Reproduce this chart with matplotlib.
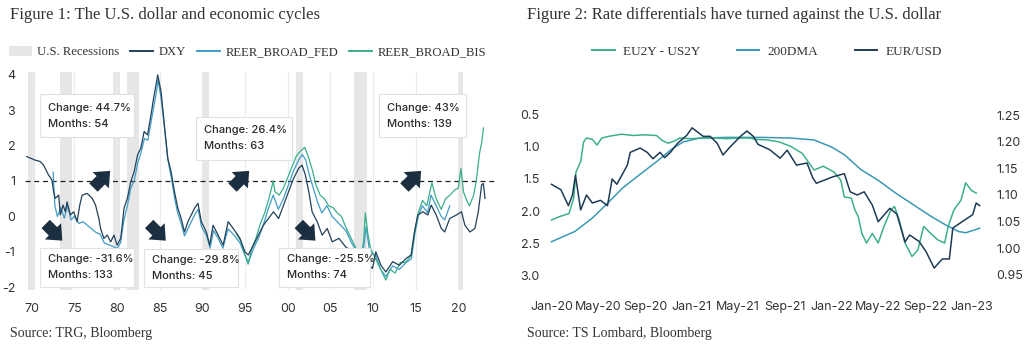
import matplotlib
matplotlib.use("Agg")
import matplotlib.pyplot as plt
import matplotlib.transforms as mtransforms
from matplotlib.patches import Rectangle, FancyArrowPatch, Patch
from matplotlib.lines import Line2D

plt.rcParams['axes.unicode_minus'] = False

# ---------------- Figure 1 data ----------------
recessions = [(1969.5, 1970.4), (1973.35, 1974.7), (1979.55, 1980.3), (1981.2, 1982.6),
              (1989.9, 1990.75), (2000.95, 2001.8), (2007.8, 2009.35), (2020.05, 2020.55)]

dxy_year = [1969.4, 1970.39, 1970.98, 1971.37, 1971.96, 1972.36, 1972.55, 1972.75, 1973.15, 1973.34,
            1973.66, 1973.93, 1974.13, 1974.52, 1974.91, 1975.31, 1975.62, 1975.9, 1976.49, 1977.08,
            1977.47, 1977.86, 1978.06, 1978.45, 1978.85, 1979.24, 1979.63, 1980.0, 1980.42, 1980.81,
            1981.2, 1981.6, 1981.99, 1982.4, 1982.78, 1983.17, 1983.57, 1983.97, 1984.28, 1984.56,
            1984.76, 1985.15, 1985.54, 1985.94, 1986.33, 1986.72, 1987.12, 1987.51, 1987.9, 1988.3,
            1989.08, 1989.48, 1989.87, 1990.46, 1990.85, 1991.25, 1991.84, 1992.43, 1993.02, 1993.61,
            1994.4, 1994.98, 1995.38, 1995.97, 1996.56, 1997.15, 1997.74, 1998.33, 1998.93, 1999.52,
            2000.1, 2000.7, 2001.29, 2001.68, 2002.07, 2002.47, 2002.86, 2003.45, 2004.04, 2004.63,
            2005.22, 2006.0, 2006.79, 2007.58, 2008.76, 2009.94, 2010.33, 2010.92, 2011.51, 2012.3,
            2013.09, 2013.87, 2014.46, 2014.86, 2015.25, 2015.84, 2016.43, 2016.82, 2017.41, 2018.0,
            2018.4, 2018.99, 2019.78, 2020.37, 2020.77, 2021.36, 2021.95, 2022.34, 2022.73, 2022.93,
            2023.13]
dxy_val = [1.69, 1.59, 1.55, 1.45, 1.17, 1.03, 0.70, 0.51, 0.60, 0.04,
           0.32, 0.13, 0.41, 0.04, 0.13, -0.15, 0.32, 0.60, 0.65, 0.51,
           0.32, -0.06, -0.34, -0.62, -0.53, -0.72, -0.53, -0.81, -0.62, 0.23,
           0.51, 0.98, 1.26, 1.74, 1.93, 2.40, 2.30, 2.87, 3.34, 3.72,
           4.0, 3.53, 2.58, 1.64, 1.26, 0.70, 0.23, -0.06, -0.44, -0.15,
           0.23, 0.37, -0.15, -0.44, -0.81, -0.25, -0.53, -0.81, -0.15, -0.34,
           -0.62, -1.0, -1.09, -0.81, -0.53, -0.25, -0.06, 0.13, -0.06, 0.32,
           0.70, 1.08, 1.36, 1.45, 1.17, 0.70, 0.13, -0.15, -0.53, -0.34,
           -0.72, -0.62, -0.86, -1.0, -1.19, -1.47, -1.0, -1.38, -1.57, -1.28,
           -1.38, -1.19, -1.09, -0.44, 0.04, 0.13, 0.04, 0.32, 0.04, -0.34,
           -0.44, -0.06, 0.04, 0.13, -0.25, -0.44, -0.34, 0.13, 0.89, 0.93,
           0.51]

fed_year = [1972.5, 1972.7, 1973.0, 1973.4, 1973.8, 1974.2, 1974.6, 1975.0, 1975.5, 1976.0,
            1976.5, 1977.0, 1977.5, 1978.0, 1978.5, 1979.0, 1979.5, 1980.0, 1980.4, 1980.8,
            1981.2, 1981.6, 1982.0, 1982.4, 1982.8, 1983.2, 1983.6, 1984.0, 1984.3, 1984.6,
            1984.8, 1985.15, 1985.55, 1985.95, 1986.35, 1986.75, 1987.1, 1987.5, 1987.9, 1988.3,
            1989.1, 1989.5, 1989.9, 1990.5, 1990.9, 1991.3, 1991.8, 1992.4, 1993.0, 1993.6,
            1994.4, 1995.0, 1995.4, 1996.0, 1996.6, 1997.2, 1997.7, 1998.3, 1998.9, 1999.5,
            2000.1, 2000.7, 2001.3, 2001.7, 2002.1, 2002.5, 2003.0, 2003.5, 2004.0, 2004.6,
            2005.2, 2006.0, 2006.8, 2007.6, 2008.4, 2008.9, 2009.2, 2009.6, 2010.3, 2010.9,
            2011.5, 2012.3, 2013.1, 2013.9, 2014.5, 2014.9, 2015.3, 2015.8, 2016.4, 2016.8,
            2017.4, 2018.0, 2018.4, 2019.0]
fed_val = [1.25, 0.3, 0.0, 0.25, -0.05, 0.3, -0.1, 0.0, -0.2, -0.15,
           -0.25, -0.35, -0.45, -0.5, -0.75, -0.8, -0.85, -0.9, -0.75, -0.1,
           0.3, 0.8, 1.0, 1.5, 1.8, 2.2, 2.15, 2.7, 3.1, 3.5,
           3.85, 3.35, 2.5, 1.6, 1.1, 0.5, 0.1, -0.2, -0.55, -0.35,
           0.05, 0.2, -0.3, -0.55, -0.9, -0.4, -0.6, -0.9, -0.35, -0.5,
           -0.75, -1.1, -1.3, -0.9, -0.6, -0.2, 0.2, 0.6, 0.2, 0.5,
           0.9, 1.3, 1.6, 1.75, 1.6, 1.2, 0.8, 0.4, 0.1, 0.3,
           0.0, -0.2, -0.4, -0.8, -1.1, -0.9, -0.3, -1.0, -1.1, -1.5,
           -1.7, -1.4, -1.5, -1.3, -1.2, -0.5, 0.0, 0.3, 0.1, 0.6,
           0.3, 0.0, -0.1, 0.3]

bis_year = [1994.0, 1994.5, 1995.0, 1995.35, 1995.8, 1996.3, 1996.8, 1997.3, 1997.8, 1998.3,
            1998.5, 1999.0, 1999.5, 2000.0, 2000.5, 2001.0, 2001.5, 2002.0, 2002.4, 2002.9,
            2003.3, 2003.8, 2004.3, 2004.8, 2005.3, 2005.8, 2006.3, 2006.8, 2007.4, 2008.0,
            2008.6, 2008.9, 2009.1, 2009.4, 2009.7, 2010.3, 2010.9, 2011.5, 2012.0, 2012.6,
            2013.2, 2013.8, 2014.5, 2014.9, 2015.3, 2015.8, 2016.3, 2016.9, 2017.4, 2018.0,
            2018.5, 2019.0, 2019.6, 2020.0, 2020.3, 2020.6, 2020.9, 2021.3, 2021.8, 2022.1,
            2022.5, 2022.75, 2022.95]
bis_val = [-0.5, -0.7, -1.1, -1.35, -0.9, -0.6, -0.2, 0.1, 0.5, 1.0,
           0.7, 0.6, 0.8, 1.1, 1.4, 1.7, 1.85, 1.95, 1.7, 1.3,
           0.9, 0.6, 0.5, 0.3, 0.25, 0.1, 0.0, -0.3, -0.6, -0.9,
           -1.1, -0.7, 0.1, -0.5, -0.9, -1.2, -1.5, -1.8, -1.5, -1.6,
           -1.3, -1.3, -1.1, -0.4, 0.1, 0.45, 0.3, 0.95, 0.5, 0.2,
           0.5, 0.6, 0.75, 0.8, 1.35, 0.7, 0.5, 0.3, 0.6, 1.0,
           1.8, 2.1, 2.5]

left_xticks = [1970, 1975, 1980, 1985, 1990, 1995, 2000, 2005, 2010, 2015, 2020]
left_xlabels = ['70', '75', '80', '85', '90', '95', '00', '05', '10', '15', '20']
left_yticks = [-2, -1, 0, 1, 2, 3, 4]

box_texts = ["Change: 44.7%\nMonths: 54", "Change: -31.6%\nMonths: 133",
             "Change: 26.4%\nMonths: 63", "Change: -29.8%\nMonths: 45",
             "Change: -25.5%\nMonths: 74", "Change: 43%\nMonths: 139"]

# ---------------- Figure 2 data (x in months since Jan-2020) ----------------
eur_m = [0, 0.8, 1.45, 1.8, 2.05, 2.5, 3.0, 3.5, 4.2, 4.8,
         5.2, 5.6, 6.5, 6.75, 7.6, 8.2, 8.7, 9.3, 9.7, 10.2,
         10.8, 11.6, 12.05, 13.0, 13.6, 14.2, 14.7, 15.3, 16.2, 16.75,
         17.3, 17.7, 18.7, 19.6, 20.2, 21.0, 21.9, 22.4, 22.7, 24.1,
         25.1, 25.6, 26.2, 26.8, 27.5, 28.0, 29.0, 29.6, 30.3, 30.7,
         31.5, 32.1, 32.8, 33.5, 34.1, 34.4, 35.2, 36.1, 36.4, 36.7]
eur_val = [1.12, 1.11, 1.08, 1.10, 1.137, 1.072, 1.10, 1.085, 1.09, 1.08,
           1.13, 1.12, 1.156, 1.18, 1.188, 1.18, 1.168, 1.18, 1.17, 1.18,
           1.197, 1.212, 1.226, 1.21, 1.21, 1.197, 1.175, 1.19, 1.21, 1.22,
           1.21, 1.195, 1.185, 1.169, 1.184, 1.156, 1.16, 1.132, 1.122, 1.134,
           1.14, 1.106, 1.10, 1.106, 1.081, 1.05, 1.075, 1.064, 1.012, 1.025,
           1.013, 0.994, 0.963, 0.98, 0.98, 1.038, 1.05, 1.063, 1.085, 1.08]

spread_m = [0, 0.8, 1.5, 1.9, 2.1, 2.5, 2.75, 3.0, 3.5, 3.9,
            4.3, 5.0, 6.0, 7.0, 8.0, 9.0, 9.5, 10.0, 10.5, 11.0,
            12.0, 13.0, 14.0, 15.0, 16.0, 17.0, 17.5, 18.5, 19.5, 20.5,
            21.5, 22.5, 23.3, 24.2, 24.8, 25.1, 25.7, 26.0, 26.3, 26.6,
            27.0, 27.5, 28.0, 28.5, 29.1, 29.4, 29.8, 30.3, 30.9, 31.4,
            31.9, 32.5, 33.1, 33.7, 34.0, 34.5, 35.1, 35.5, 36.0, 36.4]
spread_val = [2.14, 2.08, 2.04, 1.80, 1.39, 1.23, 0.92, 0.86, 0.88, 0.97,
              0.86, 0.83, 0.80, 0.82, 0.81, 0.82, 0.90, 0.94, 0.91, 0.86,
              0.87, 0.86, 0.86, 0.87, 0.86, 0.86, 0.88, 0.89, 0.92, 0.99,
              1.10, 1.36, 1.30, 1.39, 1.52, 1.78, 1.80, 1.98, 2.09, 2.35,
              2.50, 2.35, 2.50, 2.24, 1.98, 1.93, 2.14, 2.50, 2.71, 2.61,
              2.24, 2.35, 2.45, 2.50, 2.24, 1.98, 1.83, 1.56, 1.68, 1.72]

dma_m = [0, 2, 3.5, 4.8, 6.1, 7.5, 9.0, 10.4, 11.3, 12.7,
         15, 18, 20.5, 22.5, 24, 25.1, 26.5, 28, 29.5, 31,
         32.5, 33.8, 34.9, 35.5, 36.7]
dma_val = [2.48, 2.32, 2.11, 1.88, 1.64, 1.44, 1.23, 1.02, 0.92, 0.86,
           0.85, 0.85, 0.86, 0.89, 1.0, 1.12, 1.35, 1.52, 1.72, 1.90,
           2.08, 2.22, 2.32, 2.34, 2.27]

right_xticks = [0, 4, 8, 12, 16, 20, 24, 28, 32, 36]
right_xlabels = ['Jan-20', 'May-20', 'Sep-20', 'Jan-21', 'May-21', 'Sep-21',
                 'Jan-22', 'May-22', 'Sep-22', 'Jan-23']
left2_ticks = [0.5, 1.0, 1.5, 2.0, 2.5, 3.0]
right2_ticks = [0.95, 1.00, 1.05, 1.10, 1.15, 1.20, 1.25]

# ---------------- styling ----------------
C_DXY = '#22415a'
C_FED = '#3f9cc6'
C_BIS = '#3aae8b'
C_SPREAD = '#3cb08a'
C_DMA = '#3a98b6'
C_EUR = '#1f3a55'
C_TXT = '#333333'
SERIF = 'Liberation Serif'
SANS = 'Inter'

W, H = 1024, 352
fig = plt.figure(figsize=(W / 100, H / 100), dpi=100)

def fx(px):
    return px / W

def fy(py):
    return 1 - py / H

# ---------------- left chart ----------------
axL = fig.add_axes([fx(25), fy(290), fx(495 - 25), (290 - 72) / H])
axL.set_xlim(1969.2, 2024.3)
axL.set_ylim(-2.08, 4.08)
for s in axL.spines.values():
    s.set_visible(False)
for a0, b0 in recessions:
    axL.axvspan(a0, b0, color='#e6e6e6', lw=0, zorder=0)
for t in left_xticks:
    axL.axvline(t, color='#ececec', lw=0.8, zorder=0.5)
axL.axhline(1, color='#222222', lw=0.9, ls=(0, (4, 3)), zorder=1)
axL.plot(fed_year, fed_val, color=C_FED, lw=0.9, zorder=2)
axL.plot(bis_year, bis_val, color=C_BIS, lw=0.9, zorder=2.1)
axL.plot(dxy_year, dxy_val, color=C_DXY, lw=0.9, zorder=2.2)
axL.set_xticks(left_xticks)
axL.set_xticklabels(left_xlabels)
axL.set_yticks(left_yticks)
axL.set_yticklabels([str(v) for v in left_yticks])
axL.tick_params(length=0, labelsize=9, labelcolor=C_TXT)
axL.tick_params(axis='x', pad=9)
axL.tick_params(axis='y', pad=7)
for lab in axL.get_xticklabels() + axL.get_yticklabels():
    lab.set_family(SANS)

# boxes: (x0, x1, y_top, y_bottom) in data units
box_rects = [(1970.98, 1981.96, 3.47, 2.23), (1970.98, 1981.96, -0.89, -1.99),
             (1989.28, 2000.5, 2.82, 1.59), (1983.14, 1994.2, -0.92, -1.99),
             (1998.93, 2009.62, -0.89, -1.99), (2010.65, 2020.89, 3.45, 2.23)]
for (x0, x1, yt, yb), txt in zip(box_rects, box_texts):
    axL.add_patch(Rectangle((x0, yb), x1 - x0, yt - yb, facecolor='white',
                            edgecolor='#e2e2e2', lw=0.8, zorder=5))
    axL.text(x0 + 0.95, (yt + yb) / 2, txt, ha='left', va='center', fontsize=8,
             family=SANS, color='#2a2a2a', linespacing=1.75, zorder=6, fontweight='medium')

# arrows: (x, y, direction) ; direction +1 up-right, -1 down-right
arrow_pos = [(1978.2, 1.05, 1), (1994.5, 1.05, 1), (2014.66, 1.05, 1),
             (1972.6, -0.45, -1), (1984.73, -0.45, -1), (2002.27, -0.45, -1)]
a = 6.0
for cx, cy, d in arrow_pos:
    trans = (mtransforms.Affine2D().scale(1 / 72) + fig.dpi_scale_trans +
             mtransforms.ScaledTranslation(cx, cy, axL.transData))
    arr = FancyArrowPatch(posA=(-a, -a * d), posB=(a, a * d), transform=trans,
                          arrowstyle='simple,head_length=0.95,head_width=1.65,tail_width=0.85',
                          mutation_scale=10, color='#1b2f40', lw=0, shrinkA=0, shrinkB=0,
                          zorder=7)
    fig.add_artist(arr)

# legend left
hL = [Patch(facecolor='#e6e6e6', edgecolor='none'),
      Line2D([], [], color=C_DXY, lw=1.4),
      Line2D([], [], color=C_FED, lw=1.4),
      Line2D([], [], color=C_BIS, lw=1.4)]
legL = fig.legend(hL, ['U.S. Recessions', 'DXY', 'REER_BROAD_FED', 'REER_BROAD_BIS'],
                  loc='center left', bbox_to_anchor=(fx(9), fy(52)), ncol=4, frameon=False,
                  borderpad=0, borderaxespad=0, handlelength=1.8, handleheight=0.9,
                  handletextpad=0.45, columnspacing=0.85,
                  prop={'family': SERIF, 'size': 9.1})
for t in legL.get_texts():
    t.set_color(C_TXT)

fig.text(fx(10), fy(15), 'Figure 1: The U.S. dollar and economic cycles', family=SERIF,
         fontsize=12, color=C_TXT, ha='left', va='center')
fig.text(fx(10), fy(333), 'Source: TRG, Bloomberg', family=SERIF, fontsize=10,
         color=C_TXT, ha='left', va='center')

# ---------------- right chart ----------------
axR = fig.add_axes([fx(548), fy(280), fx(982 - 548), (280 - 110) / H])
axR.set_xlim(-0.3, 36.9)
axR.set_ylim(3.078, 0.422)
for s in axR.spines.values():
    s.set_visible(False)
axR.plot(dma_m, dma_val, color=C_DMA, lw=1.1, zorder=2)
axR.plot(spread_m, spread_val, color=C_SPREAD, lw=1.1, zorder=3)
axR.set_xticks(right_xticks)
axR.set_xticklabels(right_xlabels)
axR.set_yticks(left2_ticks)
axR.set_yticklabels(['%.1f' % v for v in left2_ticks])
axR.tick_params(length=0, labelsize=9, labelcolor=C_TXT)
axR.tick_params(axis='x', pad=15)
axR.tick_params(axis='y', pad=6)

ax2 = axR.twinx()
ax2.set_ylim(0.9406, 1.2594)
for s in ax2.spines.values():
    s.set_visible(False)
ax2.plot(eur_m, eur_val, color=C_EUR, lw=1.1, zorder=4)
ax2.set_yticks(right2_ticks)
ax2.set_yticklabels(['%.2f' % v for v in right2_ticks])
ax2.tick_params(length=0, labelsize=9, labelcolor=C_TXT, pad=10)
for lab in axR.get_xticklabels() + axR.get_yticklabels() + ax2.get_yticklabels():
    lab.set_family(SANS)

hR = [Line2D([], [], color=C_SPREAD, lw=1.4),
      Line2D([], [], color=C_DMA, lw=1.4),
      Line2D([], [], color=C_EUR, lw=1.4)]
legR = fig.legend(hR, ['EU2Y - US2Y', '200DMA', 'EUR/USD'], loc='center',
                  bbox_to_anchor=(fx(767), fy(52)), ncol=3, frameon=False,
                  borderpad=0, borderaxespad=0, handlelength=1.7, handletextpad=0.6,
                  columnspacing=2.8, prop={'family': SERIF, 'size': 9.5})
for t in legR.get_texts():
    t.set_color(C_TXT)

fig.text(fx(527), fy(15), 'Figure 2: Rate differentials have turned against the U.S. dollar',
         family=SERIF, fontsize=12, color=C_TXT, ha='left', va='center')
fig.text(fx(527), fy(333), 'Source: TS Lombard, Bloomberg', family=SERIF, fontsize=10,
         color=C_TXT, ha='left', va='center')

fig.savefig('out.png', dpi=100, facecolor='white')
